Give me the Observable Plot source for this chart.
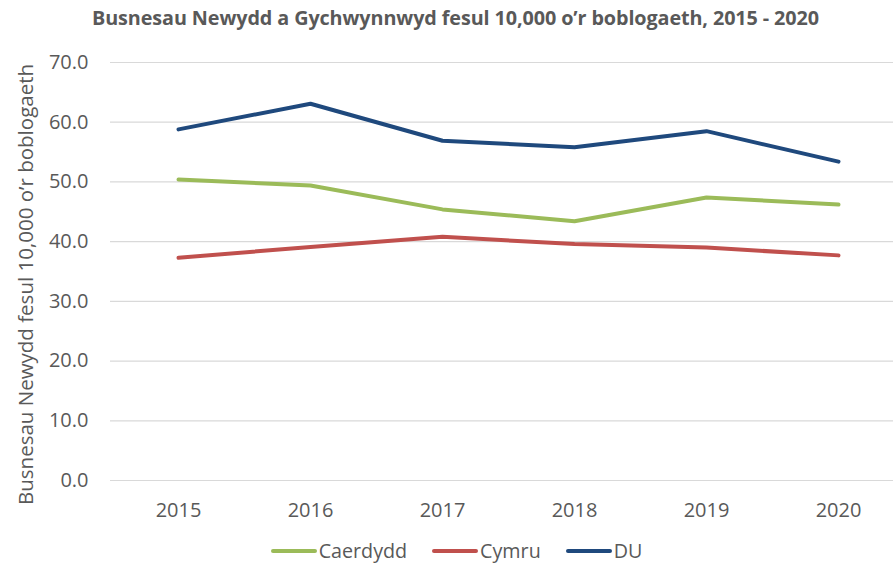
<!DOCTYPE html>
<html>
<head>
<meta charset="utf-8">
<script src="https://cdn.jsdelivr.net/npm/d3@7"></script>
<script src="https://cdn.jsdelivr.net/npm/@observablehq/plot@0.6"></script>
<style>
  html, body { margin: 0; padding: 0; background: #fff; }
  body { width: 893px; height: 571px; overflow: hidden; font-family: "Open Sans", sans-serif; }
  #title { height: 36px; line-height: 36px; text-align: center; font-weight: bold; font-size: 19.8px; color: #595959; padding-left: 18px; white-space: nowrap; letter-spacing: -0.1px; }
  #legend { height: 41px; display: flex; justify-content: center; align-items: center; gap: 25px; font-size: 19.7px; color: #595959; padding-left: 20px; }
  .item { display: flex; align-items: center; gap: 2px; }
  .swatch { width: 46px; height: 4px; border-radius: 2px; }
  svg { overflow: visible; }
</style>
</head>
<body>
<div id="title">Busnesau Newydd a Gychwynnwyd fesul 10,000 o’r boblogaeth, 2015 - 2020</div>
<div id="chart"></div>
<div id="legend"></div>
<script>
const years = ["2015", "2016", "2017", "2018", "2019", "2020"];
const seriesNames = ["Caerdydd", "Cymru", "DU"];
const caerdydd = [50.4, 49.4, 45.4, 43.4, 47.4, 46.2];
const cymru = [37.3, 39.1, 40.8, 39.6, 39.0, 37.7];
const du = [58.8, 63.1, 56.9, 55.8, 58.5, 53.4];
const colors = ["#9BBB59", "#C0504D", "#1F497D"];
const yTicks = [0, 10, 20, 30, 40, 50, 60, 70];
const yLabel = "Busnesau Newydd fesul 10,000 o’r boblogaeth";

const valuesBySeries = [caerdydd, cymru, du];
const data = [];
seriesNames.forEach((s, i) => years.forEach((y, j) => data.push({series: s, year: y, value: valuesBySeries[i][j]})));

const font = "'Open Sans', sans-serif";
const chart = Plot.plot({
  width: 893,
  height: 494,
  marginLeft: 110,
  marginRight: 0,
  marginTop: 26,
  marginBottom: 50,
  style: {fontFamily: font, fontSize: "20px", color: "#595959", background: "#fff", overflow: "visible"},
  x: {type: "point", domain: years, range: [176, 839], padding: 0, label: null},
  y: {domain: [0, 70], ticks: yTicks, label: null},
  color: {domain: seriesNames, range: colors},
  marks: [
    Plot.ruleY(yTicks, {stroke: "#D9D9D9", strokeWidth: 1.2}),
    Plot.axisY({ticks: yTicks, tickSize: 0, tickPadding: 22, tickFormat: d3.format(".1f"), label: null, fontSize: 20}),
    Plot.axisX({tickSize: 0, tickPadding: 22, label: null, fontSize: 20}),
    Plot.line(data, {x: "year", y: "value", stroke: "series", z: "series", strokeWidth: 4, strokeLinecap: "round", strokeLinejoin: "round"}),
    Plot.text([yLabel], {frameAnchor: "left", textAnchor: "middle", dx: -84, dy: 13, rotate: -90, fontSize: 20.5, fill: "#595959", text: d => d})
  ]
});
document.getElementById("chart").appendChild(chart);

const legend = document.getElementById("legend");
seriesNames.forEach((s, i) => {
  const it = document.createElement("div");
  it.className = "item";
  it.innerHTML = `<span class="swatch" style="background:${colors[i]}"></span><span>${s}</span>`;
  legend.appendChild(it);
});
</script>
</body>
</html>
